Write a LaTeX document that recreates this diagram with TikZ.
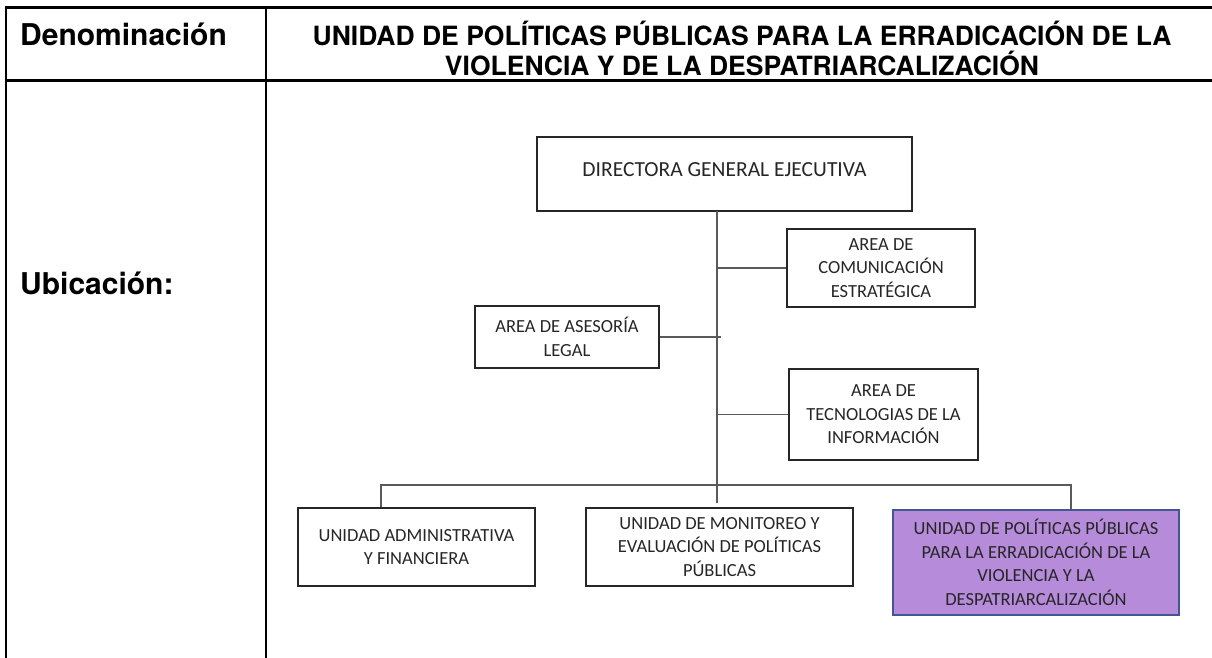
\documentclass[tikz,border=0pt]{standalone}
\usepackage{fontspec}
\setmainfont{Carlito}
\newfontfamily\headfont{TeX Gyre Heros}
\usetikzlibrary{positioning}
\definecolor{polfill}{RGB}{181,139,218}
\definecolor{poldraw}{RGB}{66,86,150}
\definecolor{linkgray}{RGB}{90,90,90}
\definecolor{boxline}{RGB}{38,38,38}

\begin{document}
\begin{tikzpicture}[x=1pt, y=-1pt,
    grid/.style={line width=2.6pt, black},
    head/.style={font=\headfont\bfseries\fontsize{30}{30}\selectfont, inner sep=0pt},
    unit/.style={draw=boxline, line width=1.3pt, align=center, inner sep=0pt,
      font=\fontsize{18.5}{23.5}\selectfont, text=black!85},
    link/.style={draw=linkgray, line width=1.6pt}
  ]
  \useasboundingbox (0,0) rectangle (1212,658);

  % table frame
  \draw[grid] (6,7.5) -- (1212,7.5);
  \draw[grid] (6,80.5) -- (1212,80.5);
  \draw[grid] (6,6.2) -- (6,658);
  \draw[grid] (266,6.2) -- (266,658);

  \node[head, anchor=west] (denom) at (20,34) {Denominación};
  \node[head, align=center, font=\headfont\bfseries\fontsize{26.5}{30}\selectfont] (title) at (742,48) {UNIDAD DE POLÍTICAS PÚBLICAS PARA LA ERRADICACIÓN DE LA\\VIOLENCIA Y DE LA DESPATRIARCALIZACIÓN};
  \node[head, anchor=west] (ubic) at (20,283) {Ubicación:};

  % organigrama
  \node[unit, font=\fontsize{21.5}{26}\selectfont, minimum width=375pt, minimum height=74pt] (dir) at (724.5,174) {\raisebox{9pt}{DIRECTORA GENERAL EJECUTIVA}};
  \node[unit, minimum width=188pt, minimum height=78pt] (com) at (881,268) {AREA DE\\COMUNICACIÓN\\ESTRATÉGICA};
  \node[unit, minimum width=184pt, minimum height=62pt] (ase) at (567,337) {AREA DE ASESORÍA\\LEGAL};
  \node[unit, minimum width=189pt, minimum height=91pt] (tec) at (883.5,414.5) {AREA DE\\TECNOLOGIAS DE LA\\INFORMACIÓN};
  \node[unit, minimum width=237pt, minimum height=78pt] (adm) at (416.5,547) {UNIDAD ADMINISTRATIVA\\Y FINANCIERA};
  \node[unit, minimum width=267pt, minimum height=78pt] (mon) at (719.5,547) {UNIDAD DE MONITOREO Y\\EVALUACIÓN DE POLÍTICAS\\PÚBLICAS};
  \node[unit, draw=poldraw, fill=polfill, line width=2.4pt, minimum width=286pt, minimum height=105pt] (pol) at (1036,562.5) {UNIDAD DE POLÍTICAS PÚBLICAS\\PARA LA ERRADICACIÓN DE LA\\VIOLENCIA Y LA\\DESPATRIARCALIZACIÓN};

  \coordinate (trunktop) at (717,211);
  \coordinate (trunkend) at (717,503);
  \coordinate (asetip) at (721,339);
  \coordinate (busL) at (381,485);
  \coordinate (busR) at (1071,485);

  \draw[link] (trunktop) -- (trunkend);
  \draw[link] (trunktop |- com.west) -- (com.west);
  \draw[link] (ase.east) -- (ase.east -| asetip);
  \draw[link] (trunktop |- tec.west) -- (tec.west);
  \draw[link] (adm.north -| busL) -- (busL) -- (busR) -- (pol.north -| busR);
\end{tikzpicture}
\end{document}
